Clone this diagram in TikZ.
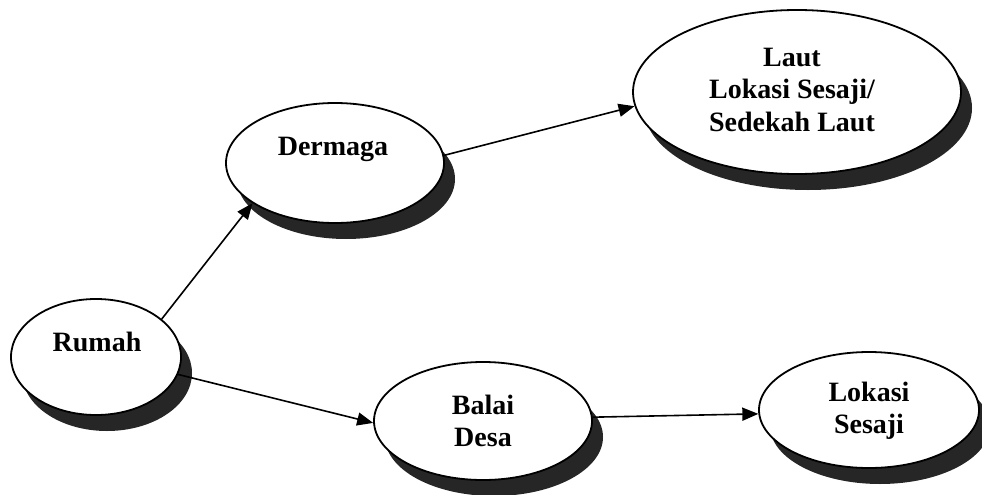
\documentclass[tikz,border=0pt]{standalone}
\usepackage{fontspec}
\setmainfont{Liberation Serif}
\usetikzlibrary{shapes.geometric,arrows.meta}
\begin{document}
\begin{tikzpicture}[x=1pt,y=-1pt,
  ell/.style={ellipse, draw=black, line width=1.8pt, fill=white, inner sep=0pt},
  shad/.style={ellipse, fill=black!85, inner sep=0pt},
  lbl/.style={font=\fontsize{28}{32.5}\selectfont\bfseries, align=center, inner sep=0pt},
  link/.style={line width=1.6pt, -{Triangle[length=16pt,width=13pt]}}
]
\useasboundingbox (0,0) rectangle (982,495);
% shadows
\node[shad, minimum width=170pt, minimum height=116pt] (rumahS) at (107,373) {};
\node[shad, minimum width=218pt, minimum height=120pt] (dermagaS) at (346,179) {};
\node[shad, minimum width=328pt, minimum height=164pt] (lautS) at (808,108) {};
\node[shad, minimum width=218pt, minimum height=118pt] (balaiS) at (494,437) {};
\node[shad, minimum width=220pt, minimum height=116pt] (lokasiS) at (880,426) {};
% ellipses
\node[ell, minimum width=170pt, minimum height=116pt] (rumah) at (96,357) {};
\node[ell, minimum width=218pt, minimum height=120pt] (dermaga) at (335,163) {};
\node[ell, minimum width=328pt, minimum height=164pt] (laut) at (797,92) {};
\node[ell, minimum width=218pt, minimum height=118pt] (balai) at (483,421) {};
\node[ell, minimum width=220pt, minimum height=116pt] (lokasi) at (869,410) {};
% labels
\node[lbl] (rumahT) at (97,342) {Rumah};
\node[lbl] (dermagaT) at (333,149) {Dermaga};
\node[lbl] (lautT) at (792,90) {Laut\\Lokasi Sesaji/\\Sedekah Laut};
\node[lbl] (balaiT) at (483,421) {Balai\\Desa};
\node[lbl] (lokasiT) at (869,411) {Lokasi\\Sesaji};
% connectors
\draw[link] (rumah.30) -- (dermaga.206);
\draw[link] (dermaga.4) -- (laut.185);
\draw[link] (rumah.-12) -- (balai.181);
\draw[link] (balai.2) -- (lokasi.182);
\end{tikzpicture}
\end{document}
